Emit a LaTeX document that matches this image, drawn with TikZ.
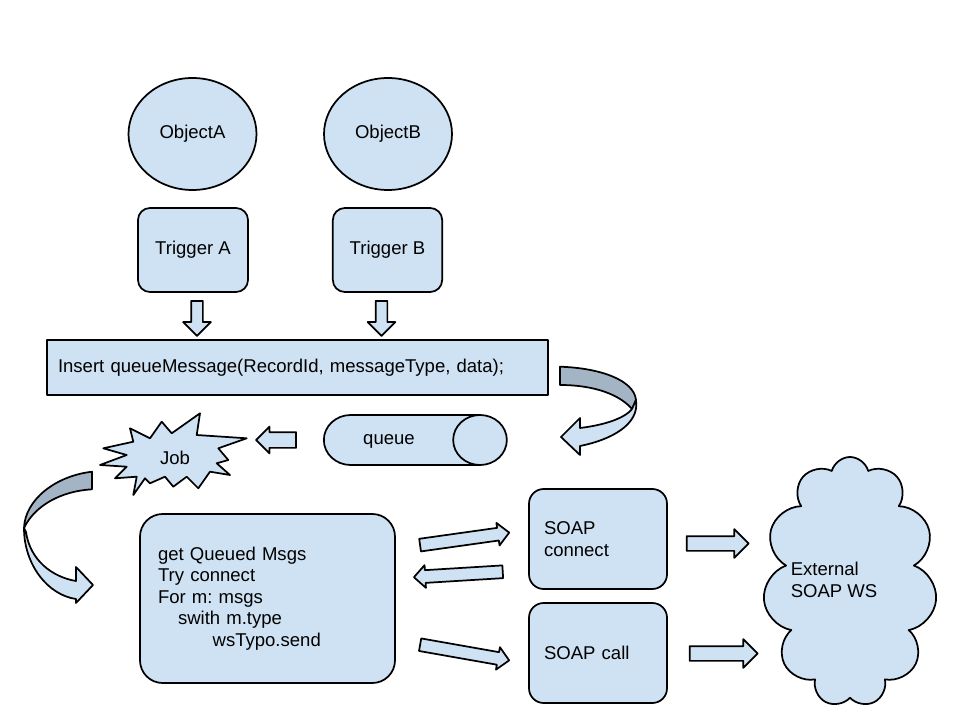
\documentclass[tikz,border=0pt]{standalone}
\usepackage{fontspec}
\setmainfont{Liberation Sans}
\usetikzlibrary{shapes.geometric,shapes.arrows,shapes.symbols}
\definecolor{lb}{RGB}{207,226,243}
\definecolor{db}{RGB}{163,180,196}
\begin{document}
\begin{tikzpicture}[x=0.75pt,y=-0.75pt,
  font=\fontsize{13.9pt}{16.1pt}\selectfont\frenchspacing,
  shp/.style={draw=black, fill=lb, line width=1.3pt, line join=round},
  obj/.style={shp, ellipse, minimum width=96pt, minimum height=84pt, inner sep=0pt},
  rbox/.style={shp, rectangle, rounded corners=#1},
  barrow/.style n args={3}{shp, single arrow, inner xsep=0pt, minimum width=0pt,
     minimum height=#1*0.75pt, inner ysep=#2*0.375pt, single arrow head extend=#3*0.75pt},
  ribbon/.style={draw=black, line width=1.3pt, line join=round}
]
\useasboundingbox (0,0) rectangle (960,720);
\fill[white] (0,0) rectangle (960,720);

% objects
\node[obj] (objA) at (192.5,134) {ObjectA};
\node[obj] (objB) at (388,134) {ObjectB};

% triggers
\node[rbox=9pt, minimum width=82.5pt, minimum height=63pt] (trigA) at (193,250) {Trigger A};
\node[rbox=9pt, minimum width=82pt, minimum height=63pt] (trigB) at (387.5,250) {Trigger B};

% down arrows
\node[barrow={35}{10}{8}, rotate=-90] (arA) at (197,315.5) {};
\node[barrow={35}{10}{8}, rotate=-90] (arB) at (381.5,315.5) {};

% insert box
\node[shp, rectangle, minimum width=375.75pt, minimum height=41.25pt, text width=359.25pt,
      inner xsep=8.25pt, align=left] (insert) at (297.5,367.5)
      {Insert queueMessage(RecordId, messageType, data);};

% right curved ribbon arrow (insert -> queue)
\draw[ribbon, fill=db] (560,366.7) .. controls (600,368) and (634,380) .. (636,400) -- (632,409)
   .. controls (620,395) and (595,385) .. (560,385) -- cycle;
\draw[ribbon, fill=lb] (636,400) .. controls (640,425) and (610,440) .. (580,446) -- (580,455)
   -- (561,437) -- (580,418) -- (580,428) .. controls (605,425) and (625,418) .. (632,409) -- cycle;

% queue
\node[shp, cylinder, aspect=2.5, minimum width=37.5pt, minimum height=137.25pt, inner sep=0pt]
  (queue) at (401.5,440) {\begin{tabular}{@{}c@{\hspace{18.75pt}}}queue\end{tabular}};

% queue -> job arrow
\node[barrow={40}{14}{5.5}, rotate=180] (arQ) at (280,440) {};

% Job starburst
\draw[shp] (130,428.3) -- (150,438.3) -- (161.7,421.7) -- (171.7,433.3) -- (200,413.3)
  -- (196.7,435) -- (246.7,438.3) -- (218.3,448.3) -- (228.3,460) -- (216.7,463.3)
  -- (230,475) -- (210,471.7) -- (198.3,488.3) -- (186.7,476.7) -- (173.3,486.7)
  -- (165,476.7) -- (150,483.3) -- (145,478.3) -- (133.3,495) -- (136.7,476.7)
  -- (115,478.3) -- (126.7,466.7) -- (100,465) -- (126.7,455) -- (103.3,448.3)
  -- (133.3,441.7) -- cycle;
\node (job) at (175,458) {Job};

% left curved ribbon arrow (job -> main)
\draw[ribbon, fill=db] (92,471.7) .. controls (55,476) and (25,500) .. (24,528)
   .. controls (35,505) and (62,491) .. (92,489.3) -- cycle;
\draw[ribbon, fill=lb] (24,528) .. controls (24,565) and (48,595) .. (76,599) -- (76,603)
   -- (93,585) -- (76,567) -- (76,581) .. controls (52,577) and (30,560) .. (26,532) -- cycle;

% main box
\node[rbox=17pt, minimum width=191.25pt, minimum height=126.75pt, text width=164.25pt,
      inner xsep=13.5pt, align=left] (main) at (267.5,598.5)
  {get Queued Msgs\\Try connect\\For m: msgs\\\hspace*{15pt}swith m.type\\\hspace*{41pt}wsTypo.send};

% SOAP boxes
\node[rbox=11pt, minimum width=103.5pt, minimum height=75pt, text width=81pt,
      inner xsep=11.25pt, align=left] (sconn) at (598,539) {SOAP\\connect};
\node[rbox=11pt, minimum width=103.5pt, minimum height=75pt, text width=81pt,
      inner xsep=11.25pt, align=left] (scall) at (598,653) {SOAP call};

% arrows between main and SOAP
\node[barrow={90}{11}{5}, rotate=8] (ar1) at (461.5,539.3) {};
\node[barrow={89}{11}{5}, rotate=183.5] (ar2) at (461.5,574.3) {};
\node[barrow={90.4}{11}{5}, rotate=-10] (ar3) at (461.5,652) {};

% arrows to cloud
\node[barrow={62}{13}{7}] (ar4) at (714,543.5) {};
\node[barrow={68}{13}{7}] (ar5) at (720,653.5) {};

% cloud
\node[shp, cloud, cloud puffs=11, cloud ignores aspect, minimum width=117pt, minimum height=187.5pt,
      inner sep=0pt, align=left] (ext) at (850,582)
  {\begin{tabular}{@{}l@{\hspace{24pt}}}External\\SOAP WS\end{tabular}};
\end{tikzpicture}
\end{document}
